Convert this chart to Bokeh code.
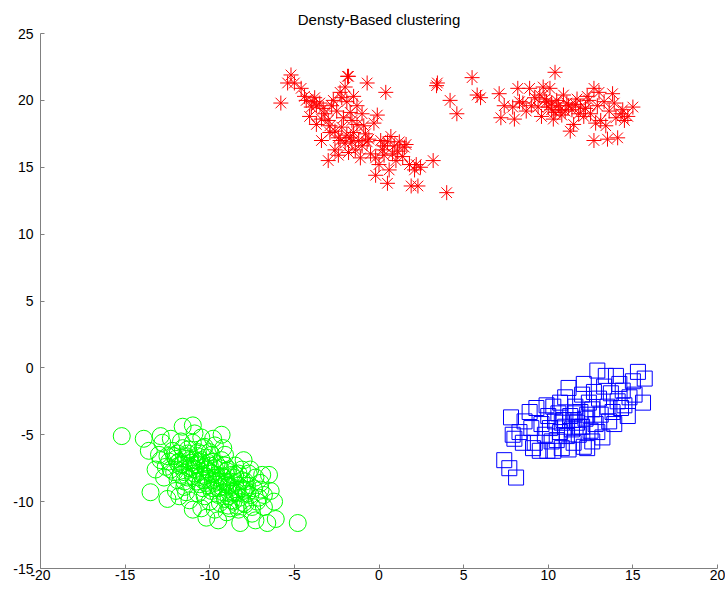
from bokeh.plotting import figure
from bokeh.models import Range1d, FixedTicker
from bokeh.embed import file_html
from bokeh.resources import INLINE

title_text = "Densty-Based clustering"
x_ticks = [-20, -15, -10, -5, 0, 5, 10, 15, 20]
y_ticks = [-15, -10, -5, 0, 5, 10, 15, 20, 25]

# Red cluster (asterisks)
red_x = [-5.8, -5.2, -5.0, -4.6, -4.3, -4.0, -3.8, -3.5, -4.1, -3.7, -3.2, -3.0, -2.9, -3.4, -3.0, -2.6,
         -2.4, -2.2, -2.5, -2.7, -2.3, -2.0, -1.8, -1.5, -1.3, -1.7, -2.1, -1.9, -1.6, -1.2, -1.0, -1.4,
         -1.8, -0.9, -0.7, 0.4, -0.1, -0.3, -0.7, -0.5, -0.2, 0.0, -0.2, 0.2, 0.5, 0.7, 0.9, 1.2, 1.5,
         1.4, 1.0, 0.6, 0.5, 1.8, 2.1, 1.9, 2.3, 2.45, 3.2, 4.0, -1.1, -2.4, -3.4, -2.8, -1.9, -1.6,
         -1.0, -0.8, 0.1, 0.3, -2.6, -2.0, -1.5, -3.7, -2.2, 1.6, 2.2, 0.8, -5.4, -1.86,
         -3.3, -2.9, -2.3, -1.7, -1.3, -0.6, 0.3, 1.1, -3.9, -4.4,
         3.4, 3.45, 4.2, 4.6, 5.5, 5.8, 6.0, 7.1, 7.2, 7.4, 7.9, 8.2, 8.5, 8.7, 8.9, 9.2, 9.4, 9.6,
         9.7, 9.9, 10.1, 10.2, 10.4, 10.5, 10.6, 10.8, 10.9, 11.1, 11.3, 11.4, 11.5, 11.7, 11.9, 12.1,
         12.3, 12.5, 12.7, 12.7, 12.9, 13.1, 13.3, 13.5, 13.6, 13.8, 14.0, 14.1, 14.3, 14.5, 14.7,
         15.0, 10.0, 10.3, 11.0, 11.6, 12.2, 9.0, 8.0, 13.9, 13.0,
         9.8, 10.2, 10.7, 11.2, 11.8, 12.4, 10.4, 9.5, 8.3, 12.8, 14.4, 13.4]
red_y = [19.8, 21.9, 21.3, 20.9, 20.0, 19.5, 20.2, 19.8, 18.8, 18.2, 19.0, 18.5, 17.6, 17.0, 15.5, 16.3,
         17.2, 18.0, 19.2, 20.0, 20.6, 21.0, 21.8, 20.3, 19.6, 19.1, 18.7, 17.4, 16.9, 17.0, 16.6, 16.3,
         16.1, 18.1, 21.3, 20.6, 18.9, 18.3, 16.9, 16.0, 15.7, 15.2, 14.4, 16.3, 16.9, 17.3, 16.6, 16.9,
         16.5, 15.8, 15.5, 14.8, 13.8, 15.2, 14.8, 13.6, 13.6, 15.0, 15.5, 13.1, 15.7, 15.9, 18.6, 19.6,
         19.9, 18.5, 19.0, 17.5, 17.0, 15.9, 17.7, 16.8, 17.6, 19.6, 20.2, 16.7, 15.2, 16.0, 21.3, 21.8,
         19.4, 18.1, 17.0, 17.2, 18.2, 17.1, 16.6, 16.2, 19.9, 20.3,
         21.1, 21.3, 20.0, 19.0, 21.7, 20.4, 20.2, 20.5, 18.7, 19.6, 19.5, 20.9, 19.8, 19.2, 20.9, 20.2,
         19.5, 18.8, 21.0, 19.9, 20.9, 19.3, 22.1, 20.0, 19.6, 18.9, 20.4, 19.8, 17.7, 19.3, 18.2, 20.1,
         19.5, 18.8, 20.3, 19.0, 20.9, 17.0, 19.6, 18.5, 19.9, 17.1, 19.2, 20.5, 18.7, 17.2, 19.0, 18.5,
         18.8, 19.5, 19.5, 18.6, 19.2, 19.7, 19.4, 19.6, 18.6, 19.8, 20.6,
         20.1, 19.8, 19.3, 19.6, 19.0, 20.0, 19.1, 20.4, 19.9, 18.3, 19.3, 18.1]

# Green cluster (circles)
green_x = [-15.2, -13.9, -13.5, -12.5, -11.6, -11.0, -12.3, -12.8, -13.0, -12.6, -9.8, -9.7, -10.3, -9.1,
           -6.5, -7.0, -4.8, -6.1, -6.6, -8.2, -9.5, -9.0, -7.5, -6.8, -7.2, -10.5, -11.2, -11.8, -8.4,
           -12.2, -12.0, -11.8, -11.6, -11.5, -11.4, -11.3, -11.1, -11.0, -10.9, -10.8, -10.7, -10.6,
           -10.5, -10.4, -10.3, -10.2, -10.1, -10.0, -9.9, -9.8, -9.7, -9.6, -9.5, -9.4, -9.3, -9.2,
           -9.1, -9.0, -8.9, -8.8, -8.7, -8.6, -8.5, -8.4, -8.3, -8.2, -8.1, -8.0, -7.9, -7.8, -7.6,
           -7.4, -7.3, -7.1, -12.4, -12.1, -11.9, -11.7, -11.5, -11.3, -11.2, -10.9, -10.8, -10.6,
           -10.4, -10.3, -10.1, -9.9, -9.8, -9.6, -9.4, -9.3, -9.1, -8.9, -8.7, -8.5, -8.3, -8.1,
           -12.7, -13.2, -12.9, -12.0, -11.4, -10.7, -10.0, -9.7, -8.9, -7.7, -7.0, -6.8, -11.7, -11.0,
           -10.2, -9.5, -9.0, -8.6, -10.6, -11.2, -10.0, -9.2, -12.5, -11.9, -10.5, -10.9, -9.3, -13.6,
           -12.9, -8.0, -7.6, -6.9, -6.4, -6.2, -7.3, -10.2, -11.0,
           -11.9, -11.4, -11.1, -10.8, -10.5, -10.2, -9.9, -9.6, -9.3, -9.0, -8.7, -8.4, -8.1, -7.8,
           -12.3, -11.6, -10.9, -10.3, -9.7, -9.1, -8.5, -7.9, -11.3, -10.7, -10.1, -9.5, -8.9, -8.3,
           -12.1, -11.5, -10.4, -9.8, -9.2, -8.6, -8.0, -7.5, -11.8, -10.0, -8.8, -7.9]
green_y = [-5.1, -5.3, -9.3, -9.8, -4.4, -4.3, -5.3, -5.6, -6.5, -7.4, -5.3, -5.8, -5.9, -6.5,
           -8.0, -8.6, -11.6, -11.3, -11.6, -11.6, -11.4, -10.8, -10.9, -10.4, -10.0, -10.5, -9.9, -9.6,
           -10.3, -6.2, -6.8, -7.3, -6.0, -7.8, -6.6, -8.2, -7.1, -5.6, -7.6, -8.5, -6.3, -7.0, -8.0,
           -9.0, -7.4, -6.7, -8.3, -7.8, -9.2, -7.0, -8.6, -8.0, -9.5, -7.5, -8.9, -8.2, -9.8, -7.7,
           -8.8, -9.4, -8.0, -10.0, -8.6, -9.1, -7.9, -9.7, -8.4, -9.2, -10.2, -8.8, -9.5, -9.0, -8.2,
           -9.7, -7.0, -7.8, -8.4, -5.5, -8.9, -6.1, -7.5, -6.9, -7.3, -8.7, -6.0, -9.6, -7.1, -6.5,
           -8.4, -7.2, -10.1, -6.9, -7.3, -7.6, -9.9, -7.3, -10.6, -7.6, -8.2, -7.6, -6.9, -9.2, -9.3,
           -9.4, -10.0, -10.6, -10.3, -7.9, -9.1, -9.5, -8.0, -8.1, -8.6, -8.5, -8.5, -9.3, -7.7, -6.9,
           -6.3, -6.0, -6.6, -6.4, -5.2, -4.9, -5.0, -6.2, -5.1, -6.9, -7.6, -8.0, -9.2, -10.0, -11.4,
           -11.2, -10.6,
           -7.1, -6.8, -7.4, -7.2, -6.9, -7.6, -7.9, -8.2, -8.1, -8.6, -8.9, -9.3, -9.0, -9.4,
           -7.6, -7.2, -7.9, -8.1, -7.5, -8.7, -8.0, -8.5, -6.4, -6.6, -8.8, -9.0, -9.6, -8.8,
           -6.6, -8.5, -8.4, -9.0, -9.3, -8.2, -10.1, -10.4, -7.0, -7.3, -10.5, -9.1]

# Blue cluster (squares)
blue_x = [7.4, 7.7, 8.1, 7.8, 8.0, 7.9, 8.3, 8.6, 8.9, 9.0, 9.2, 9.5, 9.95, 9.3, 9.6, 9.8, 10.0, 10.1,
          10.2, 10.3, 10.4, 10.5, 10.6, 10.7, 10.8, 10.9, 11.0, 11.1, 11.2, 11.3, 11.4, 11.5, 11.6, 11.7,
          11.8, 11.9, 12.0, 12.1, 12.1, 12.2, 12.3, 12.4, 12.5, 12.6, 12.7, 12.8, 12.9, 13.0, 13.1, 13.2,
          13.3, 13.4, 13.5, 13.6, 13.7, 13.8, 14.0, 14.1, 14.2, 14.3, 14.4, 14.7, 14.8, 15.0, 15.3, 15.6,
          15.7, 11.0, 10.7, 9.9, 12.0, 11.5, 12.9, 10.3, 11.2, 12.6, 13.9, 14.5, 15.1, 8.5, 9.1, 11.8,
          12.3, 10.8, 11.6]
blue_y = [-6.9, -7.5, -8.2, -3.7, -5.3, -5.0, -4.8, -4.0, -3.3, -4.5, -5.6, -6.2, -6.2, -3.0, -4.2, -5.0,
          -3.6, -4.5, -5.5, -2.9, -4.0, -5.4, -3.4, -4.8, -6.0, -3.9, -4.4, -5.1, -1.5, -3.6, -4.6, -5.6,
          -2.9, -4.1, -5.0, -3.3, -4.4, -1.2, -5.9, -3.8, -6.0, -2.6, -4.7, -3.1, -1.8, -4.2, -0.2, -2.3,
          -3.5, -5.2, -1.4, -0.6, -2.9, -4.0, -1.9, -3.3, -0.6, -2.5, -1.2, -3.0, -1.7, -3.6, -2.2, -1.0,
          -0.3, -2.6, -0.8, -2.2, -2.6, -2.8, -2.0, -3.9, -4.8, -6.2, -6.1, -5.5, -4.2, -2.8, -2.0, -5.6,
          -6.0, -4.4, -3.5, -4.1, -3.4]

p = figure(width=725, height=588, output_backend="svg", toolbar_location=None,
           x_range=Range1d(-20, 20), y_range=Range1d(-15, 25),
           min_border_left=40, min_border_right=8, min_border_top=33, min_border_bottom=20)

p.title.text = title_text
p.title.align = "center"
p.title.text_font = "Liberation Sans"
p.title.text_font_size = "15px"
p.title.text_font_style = "normal"
p.title.text_color = "#000000"
p.title.standoff = 11
p.title.offset = 0

p.grid.visible = False
p.outline_line_color = None
p.background_fill_color = "white"
p.border_fill_color = "white"

for ax in (p.xaxis[0], p.yaxis[0]):
    ax.axis_line_color = "#808080"
    ax.major_tick_line_color = "#808080"
    ax.minor_tick_line_color = None
    ax.major_tick_in = 4
    ax.major_tick_out = 0
    ax.major_label_text_font = "Liberation Sans"
    ax.major_label_text_font_size = "14px"
    ax.major_label_text_color = "#000000"

p.xaxis[0].ticker = FixedTicker(ticks=x_ticks)
p.yaxis[0].ticker = FixedTicker(ticks=y_ticks)
p.xaxis[0].major_label_overrides = {t: str(t) for t in x_ticks}
p.yaxis[0].major_label_overrides = {t: str(t) for t in y_ticks}
p.xaxis[0].major_label_standoff = 1
p.yaxis[0].major_label_standoff = 7

p.scatter(red_x, red_y, marker="asterisk", size=15, line_color="#ff0000", line_width=1)
p.scatter(green_x, green_y, marker="circle", size=17, line_color="#00ff00", fill_color=None, line_width=1)
p.scatter(blue_x, blue_y, marker="square", size=15, line_color="#0000ff", fill_color=None, line_width=1)

open("out.html", "w").write(file_html(p, INLINE))
